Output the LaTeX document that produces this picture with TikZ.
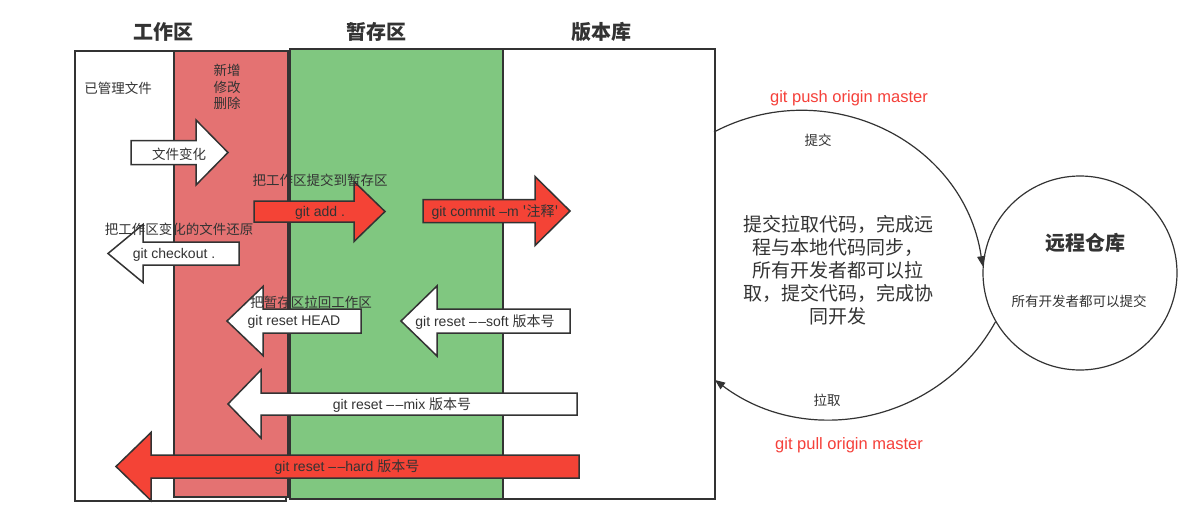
\documentclass[tikz,border=0pt]{standalone}
\usepackage{fontspec}
\setmainfont{Liberation Sans}
\newfontfamily\zhfont{Noto Sans CJK SC}
\usetikzlibrary{arrows.meta}
\definecolor{ink}{HTML}{333333}
\definecolor{redbox}{HTML}{E47272}
\definecolor{greenbox}{HTML}{80C780}
\definecolor{redarrow}{HTML}{F44336}
\definecolor{redtext}{HTML}{F5403A}
\tikzset{
  zone/.style={draw=ink, line width=1.5pt, inner sep=0pt, anchor=north west},
  blk/.style={draw=ink, line width=1.5pt, line join=miter},
  lbl/.style={text=ink, font=\fontsize{13.5}{16.7}\zhfont, inner sep=0pt, align=center},
  cmd/.style={text=ink, font=\fontsize{14}{17}\selectfont, inner sep=0pt},
  hdr/.style={text=ink, font=\fontsize{20}{24}\zhfont\bfseries, inner sep=0pt},
  conn/.style={draw=ink, line width=1.2pt, -{Triangle[length=10pt,width=8pt]}},
  redlbl/.style={text=redtext, font=\fontsize{16.5}{20}\selectfont, inner sep=0pt},
}
\newcommand\ddash{\mbox{--}\kern1.5pt\mbox{--}}
% #1 fill, #2 tail x, #3 head base x, #4 tip x, #5 centre y (pixels down), #6 body half, #7 head half
\newcommand\barrow[7]{%
  \draw[blk, fill=#1] (#2,{-#5+#6}) -- (#3,{-#5+#6}) -- (#3,{-#5+#7}) -- (#4,-#5)
    -- (#3,{-#5-#7}) -- (#3,{-#5-#6}) -- (#2,{-#5-#6}) -- cycle;}
\begin{document}
\begin{tikzpicture}[x=1pt,y=1pt]
\useasboundingbox (0,0) rectangle (1189,-506);
\fill[white] (0,0) rectangle (1189,-506);

% zones
\node[zone, fill=white, minimum width=211pt, minimum height=450pt] (wd) at (74,-50) {};
\node[zone, fill=redbox, minimum width=114pt, minimum height=446pt] (chg) at (173,-50) {};
\node[zone, fill=greenbox, minimum width=213pt, minimum height=450pt] (stage) at (289,-48) {};
\node[zone, fill=white, minimum width=212pt, minimum height=450pt] (repo) at (502,-48) {};

% headers
\node[hdr] (h1) at (163,-32) {工作区};
\node[hdr] (h2) at (376,-32) {暂存区};
\node[hdr] (h3) at (601,-32) {版本库};

\node[lbl] (managed) at (118,-88) {已管理文件};
\node[lbl] (ops) at (227,-87) {新增\\修改\\删除};

% block arrows
\barrow{white}{131}{196}{228}{152.5}{12}{32.5}
\barrow{redarrow}{254}{354}{385}{211.5}{10.5}{30}
\barrow{redarrow}{423}{535}{570}{211}{11.5}{34.5}
\barrow{white}{239}{143}{108}{253.5}{11.5}{29}
\barrow{white}{361}{263}{227}{321}{12}{34.5}
\barrow{white}{570}{437}{401}{321}{12}{35}
\barrow{white}{577}{261}{228}{404}{11}{34}
\barrow{redarrow}{579}{151}{116}{466.5}{11.5}{34}

\node[lbl] (t1) at (179,-154) {文件变化};
\node[cmd] (t2) at (320,-213) {git add .};
\node[cmd] (t3) at (495,-212) {git commit --m {\zhfont '注释'}};
\node[cmd] (t4) at (174,-255) {git checkout .};
\node[cmd] (t5) at (294,-322) {git reset HEAD};
\node[cmd] (t6) at (485,-322) {git reset \ddash soft {\zhfont 版本号}};
\node[cmd] (t7) at (402,-405) {git reset \ddash mix {\zhfont 版本号}};
\node[cmd] (t8) at (347,-467) {git reset \ddash hard {\zhfont 版本号}};

\node[lbl] (l1) at (320,-180) {把工作区提交到暂存区};
\node[lbl] (l2) at (179,-229) {把工作区变化的文件还原};
\node[lbl] (l3) at (311,-302) {把暂存区拉回工作区};

% remote
\node[circle, draw=ink, line width=1.2pt, minimum size=194pt, inner sep=0pt] (remote) at (1080,-273) {};
\node[hdr] (rt) at (1085,-243) {远程仓库};
\node[lbl] (rs) at (1079,-301) {所有开发者都可以提交};

\coordinate (pushstart) at (714,-132);
\coordinate (pullend) at (715,-380);
\draw[conn] (pushstart) to[out=27.7, in=98.4, looseness=1.08] (remote.176);
\draw[conn] (remote.210) to[out=241, in=-37, looseness=1.03] (pullend);

\node[redlbl] (push) at (849,-98) {git push origin master};
\node[redlbl] (pull) at (849,-445) {git pull origin master};
\node[lbl] (pc) at (818,-140) {提交};
\node[lbl] (pl) at (827,-400) {拉取};
\node[text=ink, font=\fontsize{19}{23}\zhfont, inner sep=0pt, align=center] (desc) at (838,-270)
  {提交拉取代码，完成远\\程与本地代码同步，\\所有开发者都可以拉\\取，提交代码，完成协\\同开发};
\end{tikzpicture}
\end{document}
